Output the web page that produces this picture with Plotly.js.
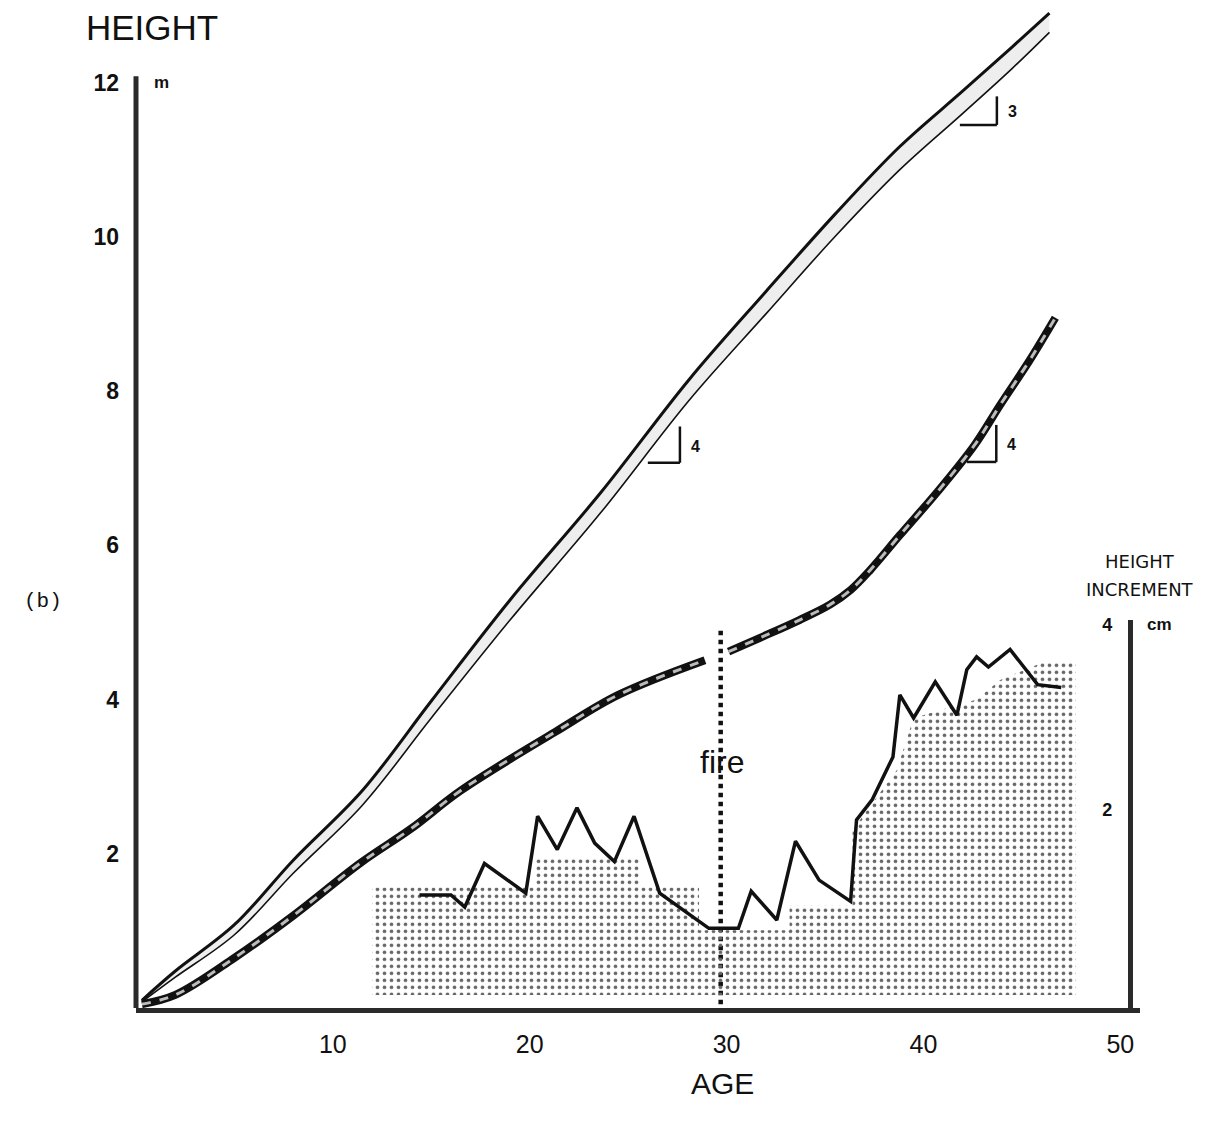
<!DOCTYPE html>
<html>
<head>
<meta charset="utf-8">
<script src="https://cdn.plot.ly/plotly-3.0.1.min.js"></script>
<style>html,body{margin:0;padding:0;background:#fff;}#chart{width:1224px;height:1128px;}</style>
</head>
<body>
<div id="chart"></div>
<script>
// ---- data ----
const upperAges  = [0.3, 2, 5, 8, 11.5, 15, 19, 23.6, 28.1, 32, 35.5, 38.8, 42, 44.5, 46.4];
const upperOuter = [0.1, 0.48, 1.08, 1.92, 2.82, 3.98, 5.29, 6.68, 8.15, 9.29, 10.29, 11.17, 11.89, 12.46, 12.9];
const upperInner = [0.08, 0.4, 0.95, 1.75, 2.63, 3.76, 5.03, 6.42, 7.88, 9.0, 10.0, 10.87, 11.6, 12.18, 12.65];

const lowerAges   = [0.3, 2, 5, 8, 11.4, 14, 16.5, 21.3, 24.5, 28.9, 29.5, 30.1, 31.7, 33.7, 35.25, 36.3, 37.3, 38.8, 40.8, 42.6, 43.9, 45.4, 46.7];
const lowerHeight = [0.05, 0.17, 0.65, 1.2, 1.88, 2.33, 2.82, 3.58, 4.06, 4.51, null, 4.62, 4.80, 5.03, 5.23, 5.42, 5.68, 6.13, 6.72, 7.30, 7.82, 8.40, 8.95];

const incAges = [14.4, 16.0, 16.7, 17.7, 19.8, 20.4, 21.4, 22.4, 23.3, 24.3, 25.3, 26.6, 29.1, 30.6, 31.25, 32.55, 33.5, 34.7, 36.3, 36.6, 37.4, 38.45, 38.8, 39.5, 40.6, 41.7, 42.2, 42.7, 43.3, 44.4, 45.8, 47.0];
const incCm   = [1.08, 1.08, 0.95, 1.42, 1.10, 1.93, 1.57, 2.02, 1.64, 1.44, 1.93, 1.10, 0.72, 0.72, 1.12, 0.81, 1.66, 1.24, 1.01, 1.89, 2.11, 2.57, 3.24, 2.99, 3.38, 3.02, 3.51, 3.65, 3.54, 3.73, 3.35, 3.32];

const stippleAges = [12.0, 12.0, 20.3, 20.3, 25.6, 25.6, 28.6, 28.6, 33.2, 33.2, 36.4, 36.4, 38.65, 39.5, 42.7, 43.9, 46.05, 47.75, 47.75];
const stippleTop  = [0, 1.16, 1.16, 1.48, 1.48, 1.16, 1.16, 0.70, 0.70, 0.97, 0.97, 1.78, 2.43, 2.99, 3.19, 3.40, 3.59, 3.59, 0];

const fireAge = [29.7, 29.7];
const fireHeight = [0.05, 4.93];

const xTicks = [10, 20, 30, 40, 50];
const yTicks = [2, 4, 6, 8, 10, 12];
const y2Ticks = [2, 4];

const INK = '#111';
const FONT = 'Liberation Sans, Arial, sans-serif';

const traces = [
  // stippled area under increment (right axis)
  {x: stippleAges, y: stippleTop, xaxis: 'x', yaxis: 'y2', type: 'scatter', mode: 'lines',
   fill: 'toself', fillcolor: 'rgba(0,0,0,0)', line: {width: 0, color: 'rgba(0,0,0,0)'},
   fillpattern: {shape: '.', fgcolor: '#666', bgcolor: 'rgba(0,0,0,0)', size: 7, solidity: 0.22},
   hoverinfo: 'skip', showlegend: false},
  // upper growth band
  {x: upperAges, y: upperInner, type: 'scatter', mode: 'lines', line: {color: INK, width: 1.6, shape: 'spline'}, showlegend: false},
  {x: upperAges, y: upperOuter, type: 'scatter', mode: 'lines', fill: 'tonexty', fillcolor: 'rgba(200,200,200,0.3)',
   line: {color: INK, width: 3, shape: 'spline'}, showlegend: false},
  // lower growth band (rope look)
  {x: lowerAges, y: lowerHeight, type: 'scatter', mode: 'lines', connectgaps: false, line: {color: INK, width: 8, shape: 'spline'}, showlegend: false},
  {x: lowerAges, y: lowerHeight, type: 'scatter', mode: 'lines', connectgaps: false, line: {color: '#bbb', width: 3, shape: 'spline', dash: 'dash'}, showlegend: false},
  // fire line
  {x: fireAge, y: fireHeight, type: 'scatter', mode: 'lines', line: {color: INK, width: 4.5, dash: 'dot'}, showlegend: false},
  // increment line
  {x: incAges, y: incCm, xaxis: 'x', yaxis: 'y2', type: 'scatter', mode: 'lines', line: {color: INK, width: 3.5}, showlegend: false}
];

function slopeMark(x0, x1, yb, yt) {
  return [
    {type: 'line', xref: 'x', yref: 'y', x0: x0, x1: x1, y0: yb, y1: yb, line: {color: INK, width: 2.5}},
    {type: 'line', xref: 'x', yref: 'y', x0: x1, x1: x1, y0: yb, y1: yt, line: {color: INK, width: 2.5}}
  ];
}

const layout = {
  width: 1224, height: 1128,
  margin: {l: 136, r: 84, t: 10, b: 120},
  paper_bgcolor: '#fff', plot_bgcolor: 'rgba(0,0,0,0)',
  showlegend: false,
  font: {family: FONT, color: INK},
  xaxis: {
    range: [0, 51], showgrid: false, zeroline: false,
    showline: true, linewidth: 5, linecolor: '#2a2a2a',
    tickvals: xTicks, ticks: '', ticklabelstandoff: 10,
    tickfont: {size: 25, family: FONT, color: INK}
  },
  yaxis: {
    range: [0, 12.94], showgrid: false, zeroline: false, showline: false,
    tickvals: yTicks, ticks: '', ticklabelstandoff: 16,
    tickfont: {size: 23, family: FONT, color: INK, weight: 'bold'}
  },
  yaxis2: {
    domain: [0, 0.389], range: [-0.14, 4.05], anchor: 'free', position: 0.99, side: 'left',
    showgrid: false, zeroline: false, showline: true, linewidth: 5, linecolor: '#2a2a2a',
    tickvals: y2Ticks, ticks: '', ticklabelstandoff: 12,
    tickfont: {size: 18, family: FONT, color: INK, weight: 'bold'}
  },
  shapes: [
    {type: 'line', xref: 'paper', yref: 'y', x0: 0, x1: 0, y0: 0, y1: 12.08, line: {color: '#2a2a2a', width: 5}}
  ].concat(slopeMark(26.0, 27.63, 7.07, 7.54))
   .concat(slopeMark(42.2, 43.7, 7.08, 7.56))
   .concat(slopeMark(41.85, 43.73, 11.45, 11.82)),
  annotations: [
    {text: 'HEIGHT', xref: 'paper', yref: 'paper', x: -0.052, y: 0.982, xanchor: 'left', yanchor: 'middle', showarrow: false, font: {size: 35, family: FONT}},
    {text: 'm', xref: 'paper', yref: 'y', x: 0.016, y: 12.0, xanchor: 'left', yanchor: 'middle', showarrow: false, font: {size: 17, family: FONT, weight: 'bold'}},
    {text: '(b)', xref: 'paper', yref: 'paper', x: -0.0926, y: 0.407, xanchor: 'center', yanchor: 'middle', showarrow: false, font: {size: 21, family: 'Liberation Mono, monospace'}},
    {text: 'HEIGHT', xref: 'paper', yref: 'paper', x: 1.0, y: 0.447, xanchor: 'center', yanchor: 'middle', showarrow: false, font: {size: 18, family: 'DejaVu Sans, sans-serif'}},
    {text: 'INCREMENT', xref: 'paper', yref: 'paper', x: 1.0, y: 0.419, xanchor: 'center', yanchor: 'middle', showarrow: false, font: {size: 18, family: 'DejaVu Sans, sans-serif'}},
    {text: 'cm', xref: 'paper', yref: 'y2', x: 1.005, y: 4.0, xanchor: 'left', yanchor: 'middle', showarrow: false, font: {size: 17, family: FONT, weight: 'bold'}},
    {text: 'fire', xref: 'x', yref: 'y', x: 29.75, y: 3.19, xanchor: 'center', yanchor: 'middle', showarrow: false, font: {size: 32, family: FONT}},
    {text: 'AGE', xref: 'paper', yref: 'paper', x: 0.584, y: -0.076, xanchor: 'center', yanchor: 'middle', showarrow: false, font: {size: 30, family: FONT}},
    {text: '4', xref: 'x', yref: 'y', x: 28.1, y: 7.28, xanchor: 'left', yanchor: 'middle', showarrow: false, font: {size: 16, family: FONT, weight: 'bold'}},
    {text: '4', xref: 'x', yref: 'y', x: 44.15, y: 7.30, xanchor: 'left', yanchor: 'middle', showarrow: false, font: {size: 16, family: FONT, weight: 'bold'}},
    {text: '3', xref: 'x', yref: 'y', x: 44.2, y: 11.63, xanchor: 'left', yanchor: 'middle', showarrow: false, font: {size: 16, family: FONT, weight: 'bold'}}
  ]
};

Plotly.newPlot('chart', traces, layout, {displayModeBar: false, staticPlot: true});
</script>
</body>
</html>
